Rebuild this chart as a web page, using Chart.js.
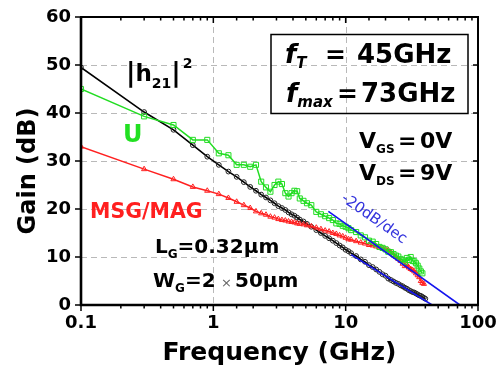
<!DOCTYPE html>
<html><head><meta charset="utf-8">
<script src="https://cdn.jsdelivr.net/npm/chart.js@4/dist/chart.umd.min.js"></script>
<style>html,body{margin:0;padding:0;background:#fff}</style>
</head><body>
<canvas id="c" width="500" height="366" style="display:block"></canvas>
<script>
// ---- data ----
const FREQ = [0.1,0.3,0.5,0.7,0.9,1.1,1.3,1.5,1.7,1.9,
  2.1,2.3,2.5,2.7,2.9,3.1,3.3,3.5,3.7,3.9,
  4.1,4.3,4.5,4.8,5.1,5.5,6.0,6.5,7.0,7.5,
  8.0,8.5,9.0,9.5,10,10.5,11,12,13,14,
  15,16,17,18,19,20,21,22,23,24,
  25,26,27,28,29,30,31,32,33,34,
  35,36,37,38,39,40];
const H21 = [49.5,40.2,36.5,33.3,30.9,29.2,27.8,26.7,25.6,24.6,
  23.8,23.0,22.4,21.8,21.2,20.6,20.2,19.8,19.3,18.9,
  18.6,18.2,17.8,17.4,16.9,16.3,15.6,15.0,14.4,13.9,
  13.4,12.9,12.4,12.0,11.5,11.2,10.8,10.2,9.5,9.0,
  8.3,7.9,7.4,6.9,6.4,6.1,5.5,5.2,4.9,4.6,
  4.4,4.1,3.9,3.6,3.4,3.1,2.9,2.7,2.6,2.4,
  2.2,2.0,1.9,1.7,1.5,1.3];
const MSG = [33.0,28.3,26.2,24.6,23.8,23.1,22.3,21.5,20.8,20.2,
  19.5,19.1,18.8,18.4,18.2,17.9,17.7,17.6,17.4,17.3,
  17.2,17.0,16.9,16.8,16.6,16.4,16.1,15.8,15.5,15.3,
  15.0,14.8,14.5,14.3,14.0,13.7,13.6,13.3,13.0,12.8,
  12.5,12.4,12.2,12.0,11.8,11.6,11.4,11.0,10.4,10.0,
  9.6,9.2,8.6,8.1,8.4,7.8,7.5,7.3,7.0,6.6,
  6.2,5.8,5.0,4.6,4.4,null];
const U = [45.0,39.3,37.5,34.4,34.4,31.6,31.2,29.2,29.2,28.8,
  29.2,25.7,24.5,23.6,25.0,25.7,25.2,23.3,22.6,23.3,
  23.8,23.7,22.2,21.7,21.2,20.8,19.4,18.9,18.5,18.1,
  17.7,17.0,16.9,16.5,16.3,16.0,15.6,15.2,14.5,14.1,
  13.4,13.2,12.7,12.1,11.9,11.6,11.1,11.0,10.6,10.3,
  10.1,9.6,9.3,9.0,9.8,9.4,10.0,9.2,9.1,8.7,
  8.2,7.6,7.0,6.6,null,null];
const SLOPE_UPPER_X = [7.4, 73];
const SLOPE_UPPER_Y = [19.5, 0];
const SLOPE_LOWER_X = [11, 45];
const SLOPE_LOWER_Y = [10.5, 0];
const X_TICK_LABELS = ['0.1','1','10','100'];
const Y_TICK_LABELS = ['0','10','20','30','40','50','60'];
const Y_GRID = [10,20,30,40,50];
const X_GRID = [1,10];

// ---- helpers ----
const pts = (xs, ys) => xs.map((x,i)=>({x, y: ys[i]})).filter(p => p.y !== null);
const FAM = '"DejaVu Sans", "Liberation Sans", sans-serif';
const B = s => `bold ${s}px ${FAM}`;
const BI = s => `italic bold ${s}px ${FAM}`;
const N = s => `${s}px ${FAM}`;
const isPow10 = v => Math.abs(Math.log10(v) - Math.round(Math.log10(v))) < 1e-6;

function runs(ctx, x, y, parts){
  for (const p of parts){
    ctx.font = p.f; ctx.fillStyle = p.c || '#000';
    if (p.x !== undefined) x = p.x;
    ctx.fillText(p.t, x, y + (p.dy || 0));
    x += ctx.measureText(p.t).width + (p.gap || 0);
  }
}

const deco = {
  id: 'deco',
  beforeDatasetsDraw(chart){
    const {ctx, chartArea:a, scales:{x, y}} = chart;
    ctx.save();
    ctx.strokeStyle = '#b9b9b9'; ctx.lineWidth = 1; ctx.setLineDash([6,4]);
    ctx.beginPath();
    Y_GRID.forEach(v => { const py = Math.round(y.getPixelForValue(v)) + 0.5; ctx.moveTo(a.left, py); ctx.lineTo(a.right, py); });
    X_GRID.forEach(v => { const px = Math.round(x.getPixelForValue(v)) + 0.5; ctx.moveTo(px, a.top); ctx.lineTo(px, a.bottom); });
    ctx.stroke();
    ctx.restore();
  },
  afterDraw(chart){
    const {ctx, chartArea:a, scales:{x, y}} = chart;
    ctx.save();
    // frame
    ctx.strokeStyle = '#000'; ctx.lineWidth = 2;
    ctx.strokeRect(a.left, a.top, a.right - a.left, a.bottom - a.top);
    ctx.lineWidth = 2.6;
    ctx.beginPath(); ctx.moveTo(a.left, a.top); ctx.lineTo(a.left, a.bottom); ctx.lineTo(a.right, a.bottom); ctx.stroke();
    // ticks
    ctx.lineWidth = 1.5;
    ctx.beginPath();
    x.ticks.forEach(t => {
      const px = x.getPixelForValue(t.value);
      const L = isPow10(t.value) ? 6 : 3.5;
      ctx.moveTo(px, a.bottom); ctx.lineTo(px, a.bottom + L);
      ctx.moveTo(px, a.top); ctx.lineTo(px, a.top + L);
    });
    y.ticks.forEach(t => {
      const py = y.getPixelForValue(t.value);
      const L = (t.value % 10 === 0) ? 6 : 4;
      ctx.moveTo(a.left - L, py); ctx.lineTo(a.left, py);
      ctx.moveTo(a.right - 5, py); ctx.lineTo(a.right, py);
    });
    ctx.stroke();

    // axis titles
    ctx.fillStyle = '#000'; ctx.textAlign = 'center';
    ctx.font = B(25); ctx.textBaseline = 'alphabetic';
    ctx.fillText('Frequency (GHz)', (a.left + a.right) / 2, 360);
    ctx.save();
    ctx.translate(35, 171); ctx.rotate(-Math.PI / 2);
    ctx.font = B(24);
    ctx.fillText('Gain (dB)', 0, 0);
    ctx.restore();

    ctx.textAlign = 'left'; ctx.textBaseline = 'alphabetic';
    // |h21|^2
    runs(ctx, 126, 81, [
      {t:'|', f:B(26)}, {t:'h', f:B(23)}, {t:'21', f:B(14), dy:7}, {t:'|', f:B(26), gap:2}, {t:'2', f:B(14), dy:-13}
    ]);
    // U
    runs(ctx, 123, 142, [{t:'U', f:B(24), c:'#22e022'}]);
    // MSG/MAG
    runs(ctx, 90, 218, [{t:'MSG/MAG', f:B(20.5), c:'#ff1f1f'}]);
    // L_G
    runs(ctx, 155, 253, [{t:'L', f:B(20)}, {t:'G', f:B(12), dy:5}, {t:'=0.32\u03BCm', f:B(20)}]);
    // W_G
    runs(ctx, 153, 287, [{t:'W', f:B(20)}, {t:'G', f:B(12), dy:5}, {t:'=2', f:B(20)},
      {t:'\u00D7', f:N(13), c:'#666', x:221}, {t:'50\u03BCm', f:B(20), x:235}]);
    // box
    ctx.strokeStyle = '#000'; ctx.lineWidth = 1.5;
    ctx.strokeRect(271, 34.5, 197, 79);
    runs(ctx, 285, 63, [{t:'f', f:BI(26)}, {t:'T', f:BI(15), dy:5}]);
    runs(ctx, 325, 63, [{t:'=', f:B(25)}]);
    runs(ctx, 357, 63, [{t:'45GHz', f:B(26)}]);
    runs(ctx, 286, 102, [{t:'f', f:BI(26)}, {t:'max', f:BI(15), dy:5}]);
    runs(ctx, 337, 102, [{t:'=', f:B(25)}]);
    runs(ctx, 361, 102, [{t:'73GHz', f:B(26)}]);
    // bias
    runs(ctx, 359, 148, [{t:'V', f:B(22)}, {t:'GS', f:B(12), dy:5, gap:3}, {t:'=', f:B(22), x:398}, {t:'0V', f:B(22), x:420}]);
    runs(ctx, 359, 180, [{t:'V', f:B(22)}, {t:'DS', f:B(12), dy:5, gap:3}, {t:'=', f:B(22), x:398}, {t:'9V', f:B(22), x:420}]);
    // slope label
    ctx.save();
    ctx.translate(374, 219); ctx.rotate(35 * Math.PI / 180);
    ctx.font = N(15); ctx.fillStyle = '#3333dd'; ctx.textAlign = 'center'; ctx.textBaseline = 'middle';
    ctx.fillText('-20dB/dec', 0, 0);
    ctx.restore();
    ctx.restore();
  }
};

const open = 'rgba(255,255,255,0)';
new Chart(document.getElementById('c'), {
  type: 'scatter',
  data: { datasets: [
    { data: pts(SLOPE_UPPER_X, SLOPE_UPPER_Y), showLine: true, borderColor: '#1414ee', borderWidth: 1.6, pointRadius: 0 },
    { data: pts(SLOPE_LOWER_X, SLOPE_LOWER_Y), showLine: true, borderColor: '#1414ee', borderWidth: 1.6, pointRadius: 0 },
    { data: pts(FREQ, U), showLine: true, borderColor: '#22dd22', borderWidth: 1.5,
      pointStyle: 'rect', pointRadius: 3.6, pointBorderColor: '#22dd22', pointBackgroundColor: open, pointBorderWidth: 1 },
    { data: pts(FREQ, MSG), showLine: true, borderColor: '#ff2020', borderWidth: 1.5,
      pointStyle: 'triangle', pointRadius: 3, pointBorderColor: '#ff2020', pointBackgroundColor: open, pointBorderWidth: 1 },
    { data: pts(FREQ, H21), showLine: true, borderColor: '#000', borderWidth: 1.6,
      pointStyle: 'circle', pointRadius: 2.4, pointBorderColor: '#222', pointBackgroundColor: open, pointBorderWidth: 1 }
  ]},
  options: {
    responsive: false, animation: false, devicePixelRatio: 1,
    layout: { padding: { left: 0, right: 22, top: 17, bottom: 0 } },
    plugins: { legend: { display: false }, tooltip: { enabled: false } },
    scales: {
      x: {
        type: 'logarithmic', min: 0.1, max: 100,
        afterFit(s){ s.height = 61; s.paddingLeft = 0; s.paddingRight = 0; },
        grid: { display: false, drawTicks: false }, border: { display: false },
        ticks: { autoSkip: false, maxRotation: 0, minRotation: 0, padding: 8, color: '#000',
          font: { family: FAM, weight: 'bold', size: 18 },
          callback: v => { const l = X_TICK_LABELS.find(s => Math.abs(Number(s) - v) < 1e-9 * Math.max(1, v)); return l === undefined ? '' : l; } }
      },
      y: {
        type: 'linear', min: 0, max: 60,
        afterFit(s){ s.width = 81; s.paddingTop = 0; s.paddingBottom = 0; },
        grid: { display: false, drawTicks: false }, border: { display: false },
        ticks: { stepSize: 5, padding: 10, color: '#000',
          font: { family: FAM, weight: 'bold', size: 18 },
          callback: v => Y_TICK_LABELS.includes(String(v)) ? String(v) : '' }
      }
    }
  },
  plugins: [deco]
});
</script>
</body></html>
